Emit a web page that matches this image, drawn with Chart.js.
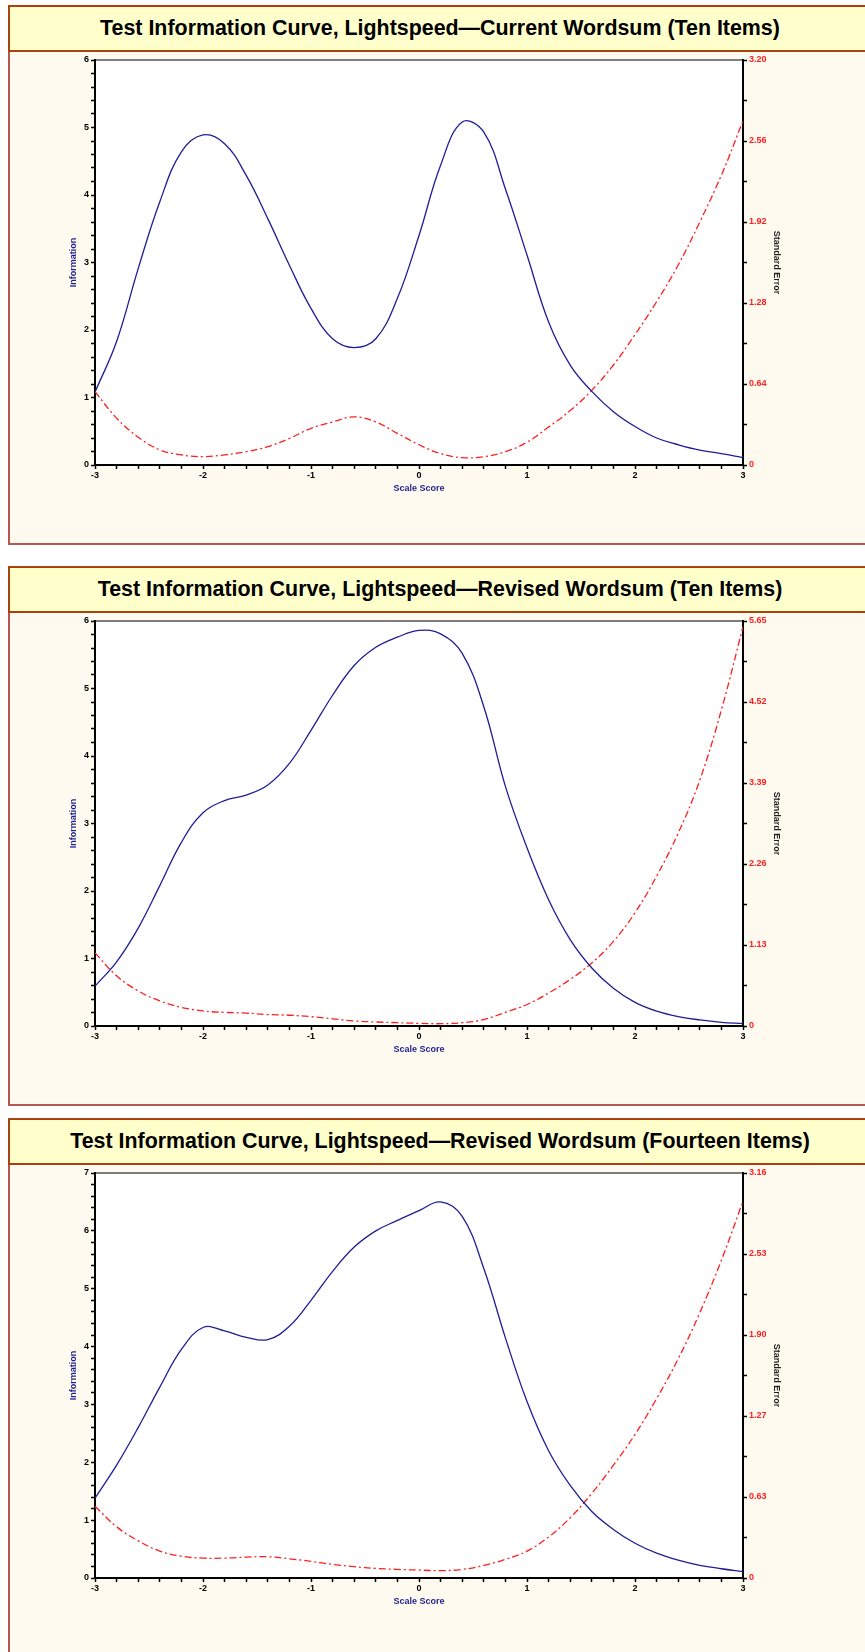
<!DOCTYPE html>
<html>
<head>
<meta charset="utf-8">
<title>Test Information Curves</title>
<script src="https://cdn.jsdelivr.net/npm/chart.js@4.4.0/dist/chart.umd.min.js"></script>
<style>
    html, body {
        margin: 0;
        padding: 0;
        background: #fff;
        overflow: hidden;
        font-family: "Liberation Sans", Arial, sans-serif;
    }
    body {
        position: relative;
        width: 865px;
        height: 1652px;
    }
    .panel {
        position: absolute;
        left: 8px;
        width: 864px;
        height: 540px;
        box-sizing: border-box;
        border: 2px solid #B4574C;
        background: #FEFAF0;
    }
    .panel-title {
        position: absolute;
        left: -2px;
        top: -2px;
        width: 864px;
        height: 47px;
        box-sizing: border-box;
        border: 2px solid #A8430F;
        background: #FFFFCC;
        color: #000;
        font-size: 21.4px;
        font-weight: bold;
        line-height: 43px;
        text-align: center;
        white-space: nowrap;
    }
    canvas {
        position: absolute;
        left: 10px;
    }
</style>
</head>
<body>
<script>
// Data (scale score steps of 0.2)
const SCORES = [-3, -2.8, -2.6, -2.4, -2.2, -2, -1.8, -1.6, -1.4, -1.2, -1, -0.8, -0.6, -0.4, -0.2,
    0, 0.2, 0.4, 0.6, 0.8, 1, 1.2, 1.4, 1.6, 1.8, 2, 2.2, 2.4, 2.6, 2.8, 3];

const TITLES = [
    'Test Information Curve, Lightspeed\u2014Current Wordsum (Ten Items)',
    'Test Information Curve, Lightspeed\u2014Revised Wordsum (Ten Items)',
    'Test Information Curve, Lightspeed\u2014Revised Wordsum (Fourteen Items)'
];

const INFO_CURRENT_10 = [1.08, 1.83, 2.91, 3.90, 4.64, 4.89, 4.76, 4.29, 3.65, 2.96, 2.32, 1.87, 1.74, 1.87, 2.47,
    3.40, 4.44, 5.08, 4.93, 4.09, 3.11, 2.12, 1.48, 1.09, 0.79, 0.57, 0.40, 0.30, 0.22, 0.17, 0.11];
const SE_CURRENT_10 = [0.58, 0.37, 0.22, 0.12, 0.08, 0.066, 0.08, 0.105, 0.145, 0.21, 0.29, 0.34, 0.38, 0.34, 0.25,
    0.16, 0.09, 0.058, 0.066, 0.105, 0.18, 0.30, 0.43, 0.59, 0.79, 1.03, 1.29, 1.58, 1.92, 2.29, 2.72];

const INFO_REVISED_10 = [0.59, 0.95, 1.45, 2.08, 2.72, 3.16, 3.34, 3.42, 3.57, 3.89, 4.38, 4.90, 5.34, 5.61, 5.76,
    5.86, 5.81, 5.52, 4.73, 3.55, 2.64, 1.87, 1.28, 0.86, 0.56, 0.35, 0.22, 0.14, 0.09, 0.055, 0.035];
const SE_REVISED_10 = [1.02, 0.70, 0.49, 0.35, 0.26, 0.21, 0.19, 0.18, 0.16, 0.15, 0.13, 0.10, 0.07, 0.056, 0.046,
    0.037, 0.032, 0.046, 0.09, 0.19, 0.30, 0.46, 0.65, 0.88, 1.18, 1.58, 2.09, 2.69, 3.43, 4.41, 5.57];

const INFO_REVISED_14 = [1.38, 1.95, 2.6, 3.3, 3.95, 4.33, 4.27, 4.16, 4.12, 4.35, 4.8, 5.3, 5.72, 6.0, 6.18,
    6.35, 6.50, 6.25, 5.35, 4.15, 3.05, 2.2, 1.6, 1.15, 0.84, 0.60, 0.43, 0.31, 0.22, 0.16, 0.11];
const SE_REVISED_14 = [0.56, 0.40, 0.29, 0.21, 0.17, 0.155, 0.155, 0.163, 0.166, 0.15, 0.13, 0.106, 0.088, 0.075, 0.067,
    0.062, 0.057, 0.067, 0.098, 0.145, 0.21, 0.32, 0.47, 0.66, 0.88, 1.12, 1.40, 1.71, 2.07, 2.48, 2.94];

// Tick values and labels
const X_TICKS = [-3, -2, -1, 0, 1, 2, 3];
const X_LABELS = ['-3', '-2', '-1', '0', '1', '2', '3'];
const INFO_TICKS_6 = [0, 1, 2, 3, 4, 5, 6];
const INFO_TICKS_7 = [0, 1, 2, 3, 4, 5, 6, 7];
const SE_TICKS_1 = [0, 0.64, 1.28, 1.92, 2.56, 3.20];
const SE_LABELS_1 = ['0', '0.64', '1.28', '1.92', '2.56', '3.20'];
const SE_TICKS_2 = [0, 1.13, 2.26, 3.39, 4.52, 5.65];
const SE_LABELS_2 = ['0', '1.13', '2.26', '3.39', '4.52', '5.65'];
const SE_TICKS_3 = [0, 0.632, 1.264, 1.896, 2.528, 3.16];
const SE_LABELS_3 = ['0', '0.63', '1.27', '1.90', '2.53', '3.16'];

const PANELS = [
    { title: TITLES[0], info: INFO_CURRENT_10, se: SE_CURRENT_10, infoTicks: INFO_TICKS_6, seTicks: SE_TICKS_1, seLabels: SE_LABELS_1, top: 5 },
    { title: TITLES[1], info: INFO_REVISED_10, se: SE_REVISED_10, infoTicks: INFO_TICKS_6, seTicks: SE_TICKS_2, seLabels: SE_LABELS_2, top: 566 },
    { title: TITLES[2], info: INFO_REVISED_14, se: SE_REVISED_14, infoTicks: INFO_TICKS_7, seTicks: SE_TICKS_3, seLabels: SE_LABELS_3, top: 1118 }
];

const FONT = '"Liberation Sans", Arial, sans-serif';
const COLORS = {
    info: '#1E1E96',
    se: '#FF1E1E',
    axisTitle: '#1F1F8F',
    seTitle: '#222',
    text: '#000'
};

// majors plus evenly spaced minor ticks between them
function withMinor(majors, labels, parts) {
    const out = [];
    for (let i = 0; i < majors.length - 1; i++) {
        const step = (majors[i + 1] - majors[i]) / parts;
        for (let k = 0; k < parts; k++) {
            out.push({ value: majors[i] + k * step, text: k === 0 ? labels[i] : '' });
        }
    }
    out.push({ value: majors[majors.length - 1], text: labels[labels.length - 1] });
    return out;
}

const tickFont = { family: FONT, size: 9, weight: 'bold' };
const axisGrid = { drawOnChartArea: false, drawTicks: true, tickLength: 4, tickWidth: 1.5, tickColor: '#000' };
const axisBorder = { display: true, color: '#000', width: 2 };

const plotFrame = {
    id: 'plotFrame',
    beforeDraw(chart) {
        const { ctx, chartArea: a } = chart;
        ctx.save();
        ctx.fillStyle = '#fff';
        ctx.fillRect(a.left, a.top, a.right - a.left, a.bottom - a.top);
        ctx.strokeStyle = '#555';
        ctx.lineWidth = 1.5;
        ctx.beginPath();
        ctx.moveTo(a.left, a.top);
        ctx.lineTo(a.right, a.top);
        ctx.stroke();
        ctx.restore();
    }
};

function renderPanel(p) {
    const box = document.createElement('div');
    box.className = 'panel';
    box.style.top = p.top + 'px';
    const head = document.createElement('div');
    head.className = 'panel-title';
    head.textContent = p.title;
    box.appendChild(head);
    document.body.appendChild(box);

    const canvas = document.createElement('canvas');
    canvas.width = 855;
    canvas.height = 491;
    canvas.style.top = (p.top + 47) + 'px';
    canvas.style.width = '855px';
    canvas.style.height = '491px';
    document.body.appendChild(canvas);

    const infoLabels = p.infoTicks.map(String);
    const infoMax = p.infoTicks[p.infoTicks.length - 1];
    const seMax = p.seTicks[p.seTicks.length - 1];

    new Chart(canvas.getContext('2d'), {
        type: 'line',
        data: {
            datasets: [{
                label: 'Information',
                data: SCORES.map((x, i) => ({ x, y: p.info[i] })),
                yAxisID: 'y',
                borderColor: COLORS.info,
                borderWidth: 1.3,
                pointRadius: 0,
                tension: 0.4,
                fill: false
            }, {
                label: 'Standard Error',
                data: SCORES.map((x, i) => ({ x, y: p.se[i] })),
                yAxisID: 'y1',
                borderColor: COLORS.se,
                borderWidth: 1.3,
                borderDash: [7, 3, 2, 3],
                pointRadius: 0,
                tension: 0.4,
                fill: false
            }]
        },
        options: {
            responsive: false,
            animation: false,
            devicePixelRatio: 1,
            layout: { padding: { top: 8, left: 0, right: 0, bottom: 0 } },
            plugins: {
                legend: { display: false },
                tooltip: { enabled: false }
            },
            scales: {
                x: {
                    type: 'linear',
                    position: 'bottom',
                    min: -3,
                    max: 3,
                    afterBuildTicks: s => { s.ticks = withMinor(X_TICKS, X_LABELS, 5); },
                    afterFit: s => { s.height = 78; },
                    ticks: {
                        autoSkip: false,
                        maxRotation: 0,
                        padding: 1,
                        color: COLORS.text,
                        font: tickFont,
                        callback: (v, i, t) => t[i].text
                    },
                    grid: axisGrid,
                    border: axisBorder,
                    title: {
                        display: true,
                        text: 'Scale Score',
                        color: COLORS.axisTitle,
                        font: { family: FONT, size: 9, weight: 'bold' },
                        padding: { top: 0, bottom: 48.6 }
                    }
                },
                y: {
                    type: 'linear',
                    position: 'left',
                    min: 0,
                    max: infoMax,
                    afterBuildTicks: s => { s.ticks = withMinor(p.infoTicks, infoLabels, 5); },
                    afterFit: s => { s.width = 85; },
                    ticks: {
                        autoSkip: false,
                        padding: 2,
                        color: COLORS.text,
                        font: tickFont,
                        callback: (v, i, t) => t[i].text
                    },
                    grid: axisGrid,
                    border: axisBorder,
                    title: {
                        display: true,
                        text: 'Information',
                        color: COLORS.axisTitle,
                        font: { family: FONT, size: 9, weight: 'bold' },
                        padding: { top: 58, bottom: 0 }
                    }
                },
                y1: {
                    type: 'linear',
                    position: 'right',
                    min: 0,
                    max: seMax,
                    afterBuildTicks: s => { s.ticks = withMinor(p.seTicks, p.seLabels, 2); },
                    afterFit: s => { s.width = 122; },
                    ticks: {
                        autoSkip: false,
                        padding: 2,
                        color: COLORS.se,
                        font: tickFont,
                        callback: (v, i, t) => t[i].text
                    },
                    grid: axisGrid,
                    border: axisBorder,
                    title: {
                        display: true,
                        text: 'Standard Error',
                        color: COLORS.seTitle,
                        font: { family: FONT, size: 9, weight: 'bold' },
                        padding: { top: 83.6, bottom: 0 }
                    }
                }
            }
        },
        plugins: [plotFrame]
    });
}

PANELS.forEach(renderPanel);
</script>
</body>
</html>
